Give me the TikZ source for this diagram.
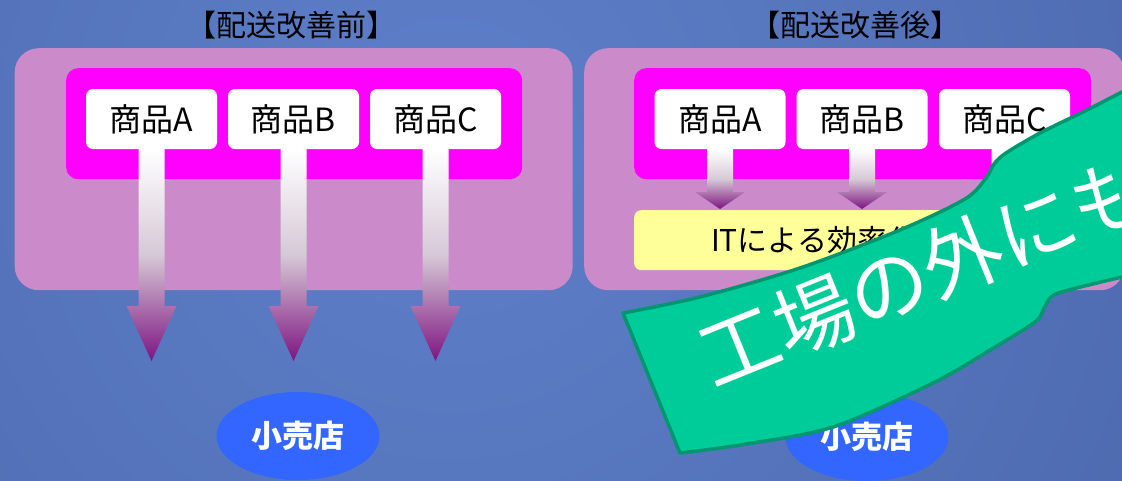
\documentclass[tikz,border=0pt]{standalone}
\usepackage{fontspec}
\setmainfont{Noto Sans CJK JP}
\usetikzlibrary{calc,shapes.geometric}
\definecolor{bgin}{RGB}{94,128,202}
\definecolor{bgout}{RGB}{52,73,134}
\definecolor{panel}{RGB}{203,139,203}
\definecolor{mag}{RGB}{255,0,255}
\definecolor{yel}{RGB}{255,255,153}
\definecolor{shop}{RGB}{51,102,255}
\definecolor{arrowend}{RGB}{125,20,128}
\definecolor{arrowmid}{RGB}{214,200,214}
\definecolor{bannerfill}{RGB}{0,204,153}
\definecolor{bannerline}{RGB}{0,150,112}
\newcommand\droparrow[3]{%
  \shade[arrowshade] let \p1=(#1.south), \p2=(#2) in
    (\x1-13pt,\y1) -- (\x1+13pt,\y1) -- (\x1+13pt,\y2+#3) -- (\x1+25pt,\y2+#3)
    -- (\x2,\y2) -- (\x1-25pt,\y2+#3) -- (\x1-13pt,\y2+#3) -- cycle;}
\begin{document}
\begin{tikzpicture}[x=1pt,y=-1pt,
  panelbox/.style={fill=panel, rounded corners=24pt, inner sep=0pt, anchor=north west},
  innerbox/.style={fill=mag, rounded corners=12pt, inner sep=0pt, anchor=north west, minimum width=457pt, minimum height=111pt},
  item/.style={fill=white, rounded corners=7pt, minimum width=131pt, minimum height=60pt, inner sep=0pt, font=\fontsize{32}{34}\selectfont},
  shopnode/.style={ellipse, fill=shop, minimum width=163pt, minimum height=88pt, inner sep=0pt, text=white, font=\bfseries\fontsize{31}{33}\selectfont},
  titletext/.style={font=\fontsize{30}{32}\selectfont},
  arrowshade/.style={top color=white, bottom color=arrowend, middle color=arrowmid},
  yellowbox/.style={fill=yel, rounded corners=7pt, anchor=north west, minimum width=457pt, minimum height=60pt, inner xsep=77pt, inner ysep=0pt, text width=303pt, align=left, font=\fontsize{30}{32}\selectfont},
  bannerstyle/.style={fill=bannerfill, draw=bannerline, line width=3.5pt, line join=round},
  bannertext/.style={text=white, rotate=22, font=\fontsize{80}{86}\selectfont}]
\useasboundingbox (0,0) rectangle (1122,480);
\clip (0,0) rectangle (1122,480);
\shade[inner color=bgin, outer color=bgout] (450,150) circle (2000);

% titles
\node[titletext] (ltitle) at (291,25) {【配送改善前】};
\node[titletext] (rtitle) at (855,25) {【配送改善後】};

% left panel
\node[panelbox, minimum width=558pt, minimum height=242pt] (lpanel) at (14.5,48) {};
\node[innerbox, minimum width=456pt] (lmag) at (66,68) {};
\node[item] (la) at (151.5,119) {商品A};
\node[item] (lb) at (293.5,119) {商品B};
\node[item] (lc) at (435.5,119) {商品C};
\coordinate (lta) at (151.5,361);
\coordinate (ltb) at (293.5,361);
\coordinate (ltc) at (435.5,361);
\droparrow{la}{lta}{55pt}
\droparrow{lb}{ltb}{55pt}
\droparrow{lc}{ltc}{55pt}
\node[shopnode] (lshop) at (298,436) {小売店};

% right panel
\node[panelbox, minimum width=540pt, minimum height=242pt] (rpanel) at (584,48) {};
\node[innerbox] (rmag) at (634,68) {};
\node[item] (ra) at (720,119) {商品A};
\node[item] (rb) at (862,119) {商品B};
\node[item] (rc) at (1004.5,119) {商品C};
\node[yellowbox] (ybox) at (634,210) {ITによる効率化};
\coordinate (rta) at (720,209);
\coordinate (rtb) at (862,209);
\coordinate (rtc) at (1004.5,209);
\droparrow{ra}{rta}{17pt}
\droparrow{rb}{rtb}{17pt}
\droparrow{rc}{rtc}{17pt}
\node[shopnode] (rshop) at (867,437) {小売店};

% banner
\draw[bannerstyle] plot[smooth, tension=0.5] coordinates {(623,313) (700,297) (800,268) (900,230) (965,199) (986,178) (994,164) (1006,153) (1040,133) (1087,110) (1122,92) (1190,58)}
  -- (1190,262)
  -- plot[smooth, tension=0.5] coordinates {(1190,262) (1122,277) (1065,291) (1051,297) (1044,308) (1035,322) (990,350) (933,383) (833,427) (740,445) (680,453)}
  -- cycle;
\node[bannertext] (btext) at (925,271) {工場の外にも};
\end{tikzpicture}
\end{document}
